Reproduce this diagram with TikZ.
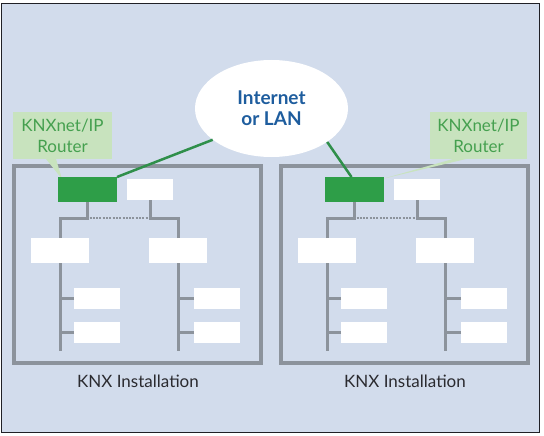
\documentclass[tikz,border=0pt]{standalone}
\usepackage{fontspec}
\setmainfont{Lato}
\usetikzlibrary{calc,shapes.geometric}
\definecolor{bg}{HTML}{D2DCEC}
\definecolor{frame}{HTML}{202026}
\definecolor{busgray}{HTML}{8C939C}
\definecolor{routergreen}{HTML}{2E9E48}
\definecolor{lblfill}{HTML}{C8E3BE}
\definecolor{lbltext}{HTML}{45A04F}
\definecolor{linkgreen}{HTML}{2F8F4A}
\definecolor{netblue}{HTML}{1E5D9E}
\definecolor{insttext}{HTML}{2B2B30}
\tikzset{
  instbox/.style={draw=busgray, line width=3.5pt, inner sep=0pt, outer sep=0pt, minimum width=247pt, minimum height=197pt},
  routerbox/.style={fill=routergreen, inner sep=0pt, outer sep=0pt, minimum width=59pt, minimum height=25pt},
  smallbox/.style={fill=white, inner sep=0pt, outer sep=0pt, minimum width=46pt, minimum height=21pt},
  couplerbox/.style={fill=white, inner sep=0pt, outer sep=0pt, minimum width=58pt, minimum height=25pt},
  bus/.style={draw=busgray, line width=3pt, line join=miter},
  dotbus/.style={draw=busgray, line width=2.6pt, dash pattern=on 2pt off 1.3pt},
  lblbox/.style={fill=lblfill, text=lbltext, inner sep=0pt, outer sep=0pt, minimum height=47pt, align=center, font=\fontsize{17}{21}\selectfont},
  link/.style={draw=linkgreen, line width=2.5pt},
  instlabel/.style={text=insttext, inner sep=0pt, anchor=base, font=\fontsize{17}{21}\selectfont}
}
\begin{document}
\begin{tikzpicture}[x=1pt,y=-1pt]
\useasboundingbox (0,0) rectangle (544,436);
\fill[white] (0,0) rectangle (544,436);
\draw[fill=bg, line width=1.5pt, draw=frame] (1.5,3.5) rectangle (539.5,432.5);

% Internet cloud
\node[ellipse, fill=white, inner sep=0pt, minimum width=153pt, minimum height=97pt,
      text=netblue, align=center, font=\fontsize{19}{21}\selectfont\bfseries] (inet) at (271.5,108.5)
      {Internet\\or LAN};

\foreach \i/\dx in {1/0,2/267}{
  \node[instbox] (inst\i) at (137.5+\dx,264.5) {};
  \coordinate (hl\i) at (60+\dx,218);
  \coordinate (hr\i) at (178+\dx,218);
  \coordinate (ea\i) at (60+\dx,351);
  \coordinate (eb\i) at (178+\dx,351);
  \node[smallbox] (w\i) at (150+\dx,189.5) {};
  \node[couplerbox] (c\i a) at (60+\dx,250.5) {};
  \node[couplerbox] (c\i b) at (178+\dx,250.5) {};
  \node[smallbox] (d\i a1) at (97+\dx,298.5) {};
  \node[smallbox] (d\i a2) at (97+\dx,332.5) {};
  \node[smallbox] (d\i b1) at (217+\dx,298.5) {};
  \node[smallbox] (d\i b2) at (217+\dx,332.5) {};
  \node[instlabel] (t\i) at (138+\dx,387) {KNX Installation};
}
% label boxes and their pointers (below routers)
\node[lblbox, minimum width=99pt] (l1) at (62.5,135.5) {KNXnet/IP\\Router};
\node[lblbox, minimum width=97pt] (l2) at (478.5,135.5) {KNXnet/IP\\Router};
\coordinate (r1nw) at (58,177);
\coordinate (r2ne) at (384,177);
\fill[lblfill] ([xshift=33pt]l1.south west) -- ([xshift=43pt]l1.south west) -- ([xshift=4pt,yshift=-2pt]r1nw) -- cycle;
\fill[lblfill] ([xshift=23pt]l2.south west) -- ([xshift=36pt]l2.south west) -- ([xshift=-2pt,yshift=-2pt]r2ne) -- cycle;

\foreach \i/\dx in {1/0,2/267}{
  \node[routerbox] (r\i) at (87.5+\dx,189.5) {};
  \draw[bus] (c\i a.north) -- (hl\i) -- (hl\i -| r\i.south) -- (r\i.south);
  \draw[bus] (c\i b.north) -- (hr\i) -- (hr\i -| w\i.south) -- (w\i.south);
  \draw[dotbus] ([xshift=2pt]hl\i -| r\i.south) -- ([xshift=-2pt]hr\i -| w\i.south);
  \draw[bus] (c\i a.south) -- (ea\i);
  \draw[bus] (c\i b.south) -- (eb\i);
  \draw[bus] (d\i a1.west) -- (d\i a1.west -| ea\i);
  \draw[bus] (d\i a2.west) -- (d\i a2.west -| ea\i);
  \draw[bus] (d\i b1.west) -- (d\i b1.west -| eb\i);
  \draw[bus] (d\i b2.west) -- (d\i b2.west -| eb\i);
}
% links to the Internet
\draw[link] (r1.north east) -- (inet.208);
\draw[link] (inet.-31) -- ([xshift=-3pt]r2.north);
\end{tikzpicture}
\end{document}
